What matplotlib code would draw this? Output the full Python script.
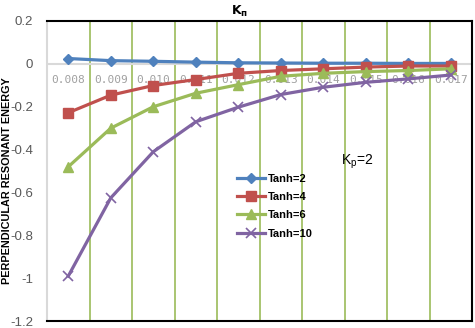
import matplotlib
matplotlib.use("Agg")
import matplotlib.pyplot as plt

k_labels = ['0.008', '0.009', '0.010', '0.011', '0.012',
            '0.013', '0.014', '0.015', '0.016', '0.017']
tanh2 = [0.025, 0.015, 0.012, 0.008, 0.005, 0.004, 0.003, 0.003, 0.002, 0.002]
tanh4 = [-0.228, -0.146, -0.101, -0.073, -0.044, -0.031, -0.023, -0.015, -0.010, -0.010]
tanh6 = [-0.48, -0.30, -0.20, -0.137, -0.097, -0.058, -0.044, -0.036, -0.031, -0.023]
tanh10 = [-0.99, -0.625, -0.41, -0.27, -0.202, -0.143, -0.109, -0.086, -0.07, -0.052]

plt.rcParams['font.family'] = ['Liberation Sans', 'DejaVu Sans']

fig = plt.figure(figsize=(4.75, 3.28), dpi=100)
ax = fig.add_axes([0.099, 0.021, 0.895, 0.915])

x = list(range(len(k_labels)))
green_grid = '#9BBB59'
for b in range(1, len(k_labels)):
    ax.axvline(b - 0.5, color=green_grid, lw=1.2, zorder=1)
ax.axhline(0, color='#D9D9D9', lw=1.5, zorder=1)

ax.plot(x, tanh2, '-D', color='#4F81BD', lw=2.3, ms=5, label='Tanh=2', zorder=3)
ax.plot(x, tanh4, '-s', color='#C0504D', lw=2.3, ms=7, label='Tanh=4', zorder=3)
ax.plot(x, tanh6, '-^', color='#9BBB59', lw=2.3, ms=7, label='Tanh=6', zorder=3)
ax.plot(x, tanh10, '-x', color='#8064A2', lw=2.3, ms=7, mew=1.2, label='Tanh=10', zorder=3)

ax.set_xlim(-0.5, len(k_labels) - 0.5)
ax.set_ylim(-1.2, 0.2)
ax.set_yticks([0.2, 0, -0.2, -0.4, -0.6, -0.8, -1, -1.2])
ax.set_yticklabels(['0.2', '0', '-0.2', '-0.4', '-0.6', '-0.8', '-1', '-1.2'])
ax.tick_params(axis='y', length=0, labelsize=9.5, labelcolor='#595959', pad=10)
ax.set_xticks([])

for i, lab in enumerate(k_labels):
    ax.text(i, -0.05, lab, ha='center', va='top', fontsize=8,
            color='#A0A0A0', family='DejaVu Sans Mono', zorder=2)

for side in ['top', 'right', 'bottom']:
    ax.spines[side].set_color('black')
    ax.spines[side].set_linewidth(1.5)
ax.spines['left'].set_color('#D9D9D9')
ax.spines['left'].set_linewidth(1.5)

ax.set_ylabel('PERPENDICULAR RESONANT ENERGY', fontsize=7.8, fontweight='bold')
ax.yaxis.set_label_coords(-0.083, 0.467)
fig.text(0.505, 0.965, r'K$_{\mathregular{п}}$', ha='center', va='center',
         fontsize=9, fontweight='bold', family='DejaVu Sans')
ax.text(0.73, 0.53, r'K$_{\mathregular{p}}$=2', transform=ax.transAxes,
        ha='center', va='center', fontsize=10)

leg = ax.legend(loc='upper left', bbox_to_anchor=(0.434, 0.51), frameon=False,
                fontsize=8, handlelength=2.5, labelspacing=0.75,
                handletextpad=0.3, borderpad=0)
for t in leg.get_texts():
    t.set_fontweight('bold')

fig.savefig('out.png', dpi=100)
